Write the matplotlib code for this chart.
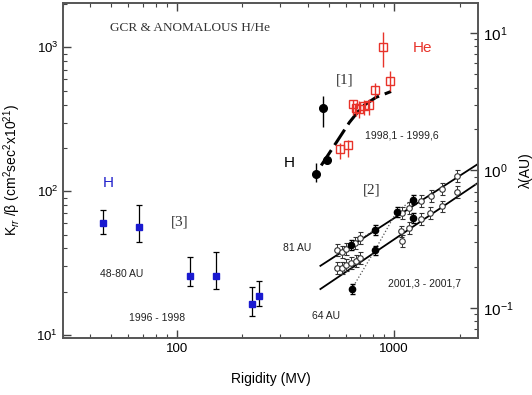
import matplotlib
matplotlib.use("Agg")
import matplotlib.pyplot as plt
import numpy as np
from matplotlib.ticker import FixedLocator, NullFormatter, LogLocator

plt.rcParams['font.family'] = ['Liberation Sans', 'DejaVu Sans']
plt.rcParams['mathtext.fontset'] = 'custom'
plt.rcParams['mathtext.rm'] = 'Liberation Sans'
plt.rcParams['mathtext.it'] = 'Liberation Sans:italic'

# ---- [3] Voyager H, 1996-1998
h3_rig = [46, 67, 115, 151, 221, 240]
h3_k = [60.3, 56.6, 25.8, 25.8, 16.4, 18.7]
h3_hi = [74.3, 80.6, 35.0, 37.9, 21.6, 23.8]
h3_lo = [50.6, 44.4, 21.9, 20.9, 13.6, 15.9]

# ---- [1] H (black) and He (red), 1998,1 - 1999,6
h1_rig = [438, 472, 493]
h1_k = [132, 376, 166]
h1_hi = [156, 456, 172]
h1_lo = [115, 281, 160]

he_rig = [563, 611, 644, 667, 690, 728, 767, 818, 884, 961]
he_k = [197, 208, 403, 378, 370, 388, 394, 504, 1012, 582]
he_hi = [217, 228, 429, 412, 423, 432, 440, 567, 1270, 684]
he_lo = [167, 173, 336, 332, 324, 338, 341, 446, 726, 496]

fit1_rig = [462, 542, 622, 713, 826, 968]
fit1_k = [151, 218, 300, 388, 449, 493]

# ---- [2] 2001,3 - 2001,7 (81 AU upper, 64 AU lower)
up_rig = [548, 576, 602, 658, 700, 1081, 1172, 1335, 1473, 1666, 1946]
up_k = [39.1, 38.0, 39.7, 43.5, 47.2, 70.5, 76.4, 84.9, 93.1, 104, 127]
lo_rig = [548, 576, 602, 635, 670, 700, 1074, 1083, 1172, 1335, 1458, 1666, 1946]
lo_k = [29.4, 29.4, 30.8, 31.6, 32.8, 34.2, 52.5, 44.9, 55.5, 64.0, 70.5, 78.3, 98.4]
fill_rig = [635, 815, 815, 638, 1026, 1216, 1216]
fill_k = [42.4, 53.9, 38.8, 20.9, 71.9, 87.3, 65.3]
dot_rig = [638, 815, 1026, 1216]
dot_k = [20.9, 38.8, 71.9, 87.3]
dot2_rig = [635, 815]
dot2_k = [42.4, 53.9]
fitu_rig = [458, 2404]
fitu_k = [30.3, 153]
fitl_rig = [458, 2404]
fitl_k = [20.9, 113]

fig = plt.figure(figsize=(5.32, 3.95), dpi=100)
ax = fig.add_axes([63/532, 57/395, 415/532, 335/395])
ax.set_xscale('log')
ax.set_yscale('log')
ax.set_xlim(30, 2430)
ax.set_ylim(9.55, 2030)

def yerr(k, hi, lo):
    k = np.array(k); return [k - np.array(lo), np.array(hi) - k]

ax.errorbar(h3_rig, h3_k, yerr=yerr(h3_k, h3_hi, h3_lo), fmt='s', ms=4,
            mfc='#1a1ad0', mec='#1a1ad0', ecolor='black', elinewidth=0.9,
            capsize=2.5, capthick=0.9, zorder=3)

ax.errorbar(h1_rig, h1_k, yerr=yerr(h1_k, h1_hi, h1_lo), fmt='o', ms=5.5,
            color='black', elinewidth=1.0, capsize=0, zorder=3)

ax.plot(fit1_rig, fit1_k, ls=(0, (6, 2)), color='black', lw=2.2, zorder=2)

ax.errorbar(he_rig, he_k, yerr=yerr(he_k, he_hi, he_lo), fmt='s', ms=6,
            mfc='none', mec='#e8332a', ecolor='#e8332a', mew=1.0,
            elinewidth=1.0, capsize=0, zorder=4)

ax.plot(fitu_rig, fitu_k, color='black', lw=1.3, zorder=2)
ax.plot(fitl_rig, fitl_k, color='black', lw=1.3, zorder=2)
ax.plot(dot_rig, dot_k, ls=':', color='#555555', lw=0.9, zorder=2)
ax.plot(dot2_rig, dot2_k, ls=':', color='#555555', lw=0.9, zorder=2)

for r, k in ((up_rig, up_k), (lo_rig, lo_k)):
    k = np.array(k)
    ax.errorbar(r, k, yerr=[k - k / 1.1, k * 1.1 - k], fmt='o', ms=4,
                mfc='white', mec='#333333', ecolor='#333333', mew=0.8,
                elinewidth=0.7, capsize=1.8, capthick=0.7, zorder=3)
fk = np.array(fill_k)
ax.errorbar(fill_rig, fk, yerr=[fk - fk / 1.08, fk * 1.08 - fk], fmt='o', ms=4.5,
            color='black', elinewidth=0.7, capsize=1.8, zorder=4)

# ticks
ax.xaxis.set_major_locator(FixedLocator([100, 1000]))
ax.set_xticklabels(['100', '1000'])
ax.xaxis.set_minor_locator(LogLocator(base=10, subs=np.arange(2, 10)))
ax.xaxis.set_minor_formatter(NullFormatter())
ax.yaxis.set_major_locator(FixedLocator([10, 100, 1000]))
ax.set_yticklabels([r'$10^1$', r'$10^2$', r'$10^3$'])
ax.yaxis.set_minor_locator(LogLocator(base=10, subs=np.arange(2, 10)))
ax.yaxis.set_minor_formatter(NullFormatter())
ax.tick_params(which='both', direction='in', top=True, right=False,
               colors='#444444', labelcolor='black', labelsize=9.5)
ax.tick_params(which='major', length=6, width=1)
ax.tick_params(which='minor', length=3, width=0.8)
for s in ax.spines.values():
    s.set_color('#555555')
    s.set_linewidth(1.2)

ax2 = ax.twinx()
ax2.set_yscale('log')
ax2.set_ylim(0.0605, 16.5)
ax2.yaxis.set_major_locator(FixedLocator([0.1, 1, 10]))
ax2.set_yticklabels([r'$10^{-1}$', r'$10^0$', r'$10^1$'])
ax2.yaxis.set_minor_locator(LogLocator(base=10, subs=np.arange(2, 10)))
ax2.yaxis.set_minor_formatter(NullFormatter())
ax2.tick_params(which='both', direction='in', colors='#444444',
                labelcolor='black', labelsize=11)
ax2.tick_params(which='major', length=6, width=1)
ax2.tick_params(which='minor', length=3, width=0.8)
for s in ax2.spines.values():
    s.set_color('#555555')
    s.set_linewidth(1.2)
ax2.set_ylabel('λ(AU)', fontsize=10, labelpad=4)

ax.set_xlabel('Rigidity (MV)', fontsize=10, labelpad=12)
ax.set_ylabel(r'K$_{rr}$ /β (cm$^2$sec$^2$x10$^{21}$)', fontsize=10, labelpad=10)

def fx(px):
    return (px - 63) / 415
def fy(py):
    return (338 - py) / 335

serif = ['Liberation Serif', 'DejaVu Serif']
T = ax.transAxes
ax.text(fx(110), fy(28), 'GCR & ANOMALOUS H/He', transform=T, family=serif,
        fontsize=9.5, color='#333333', va='center')
ax.text(fx(345), fy(80), '[1]', transform=T, family=serif, fontsize=11,
        color='#333333', ha='center', va='center')
ax.text(fx(372), fy(190), '[2]', transform=T, family=serif, fontsize=11,
        color='#333333', ha='center', va='center')
ax.text(fx(180), fy(222), '[3]', transform=T, family=serif, fontsize=11,
        color='#333333', ha='center', va='center')
ax.text(fx(422), fy(48), 'He', transform=T, fontsize=11, color='#e8332a',
        ha='center', va='center')
ax.text(fx(108), fy(183), 'H', transform=T, fontsize=11, color='#2222cc',
        ha='center', va='center')
ax.text(fx(289), fy(163), 'H', transform=T, fontsize=11, color='black',
        ha='center', va='center')
small = dict(transform=T, fontsize=7.5, color='#222222', ha='center', va='center')
ax.text(fx(402), fy(136), '1998,1 - 1999,6', **small)
ax.text(fx(122), fy(274), '48-80 AU', **small)
ax.text(fx(157), fy(318), '1996 - 1998', **small)
ax.text(fx(297), fy(248), '81 AU', **small)
ax.text(fx(326), fy(316), '64 AU', **small)
ax.text(fx(425), fy(284), '2001,3 - 2001,7', **small)

fig.savefig('out.png', dpi=100)
